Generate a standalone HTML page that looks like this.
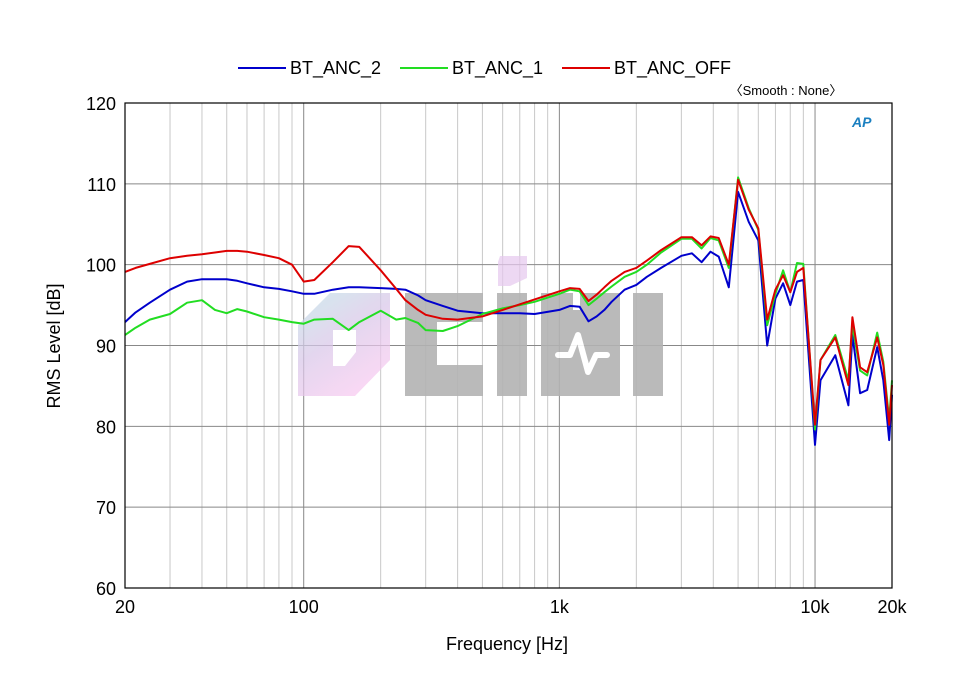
<!DOCTYPE html>
<html><head><meta charset="utf-8"><style>
body{margin:0;background:#fff;}
svg text{font-family:"Liberation Sans",sans-serif;}
</style></head><body>
<svg id="chart" width="960" height="680" xmlns="http://www.w3.org/2000/svg">
<defs>
<linearGradient id="dg" x1="0" y1="0" x2="0.6" y2="1"><stop offset="0" stop-color="#bfe3e6"/><stop offset="0.5" stop-color="#d8c6e8"/><stop offset="1" stop-color="#f7c8ef"/></linearGradient>
</defs>
<g id="grid"></g>
<g id="watermark" opacity="0.9">
<path d="M330 293 L390 293 L390 360 L355 396 L298 396 L298 325 Z M333 330 L333 366 L345 366 L356 352 L356 330 Z" fill="url(#dg)" fill-rule="evenodd" opacity="0.8"/>
<path d="M405 293 L483 293 L483 322 L437 322 L437 365 L483 365 L483 396 L405 396 Z" fill="#b3b3b3"/>
<rect x="497" y="293" width="30" height="103" fill="#b3b3b3"/>
<path d="M500 256 L527 256 L527 278 L510 286 L498 286 L498 262 Z" fill="#e6c8ee" opacity="0.8"/>
<path d="M541 293 L573 293 L573 310 L580 310 L580 293 L620 293 L620 396 L541 396 Z" fill="#b3b3b3"/>
<polyline points="558,355 570,355 578,335 588,372 596,355 607,355" fill="none" stroke="#fff" stroke-width="6" stroke-linecap="round" stroke-linejoin="round"/>
<rect x="633" y="293" width="30" height="103" fill="#b3b3b3"/>
</g>
<g id="series"></g>
<rect x="125" y="103" width="767" height="485" fill="none" stroke="#000" stroke-width="1.2"/>
<g id="ticks"></g>
<text x="507" y="650" font-size="18" text-anchor="middle">Frequency [Hz]</text>
<text transform="translate(60,346) rotate(-90)" font-size="18" text-anchor="middle">RMS Level [dB]</text>
<text x="786" y="95" font-size="13" text-anchor="middle">〈Smooth : None〉</text>
<text x="852" y="127" font-size="14" font-style="italic" font-weight="bold" fill="#1a7fc0">AP</text>
<g id="legend"></g>
</svg>
<script>
const freqs=[20,22,25,30,35,40,45,50,55,60,70,80,90,100,110,130,150,165,200,230,250,280,300,350,400,500,600,700,800,1000,1100,1200,1300,1400,1500,1600,1800,2000,2200,2500,3000,3300,3600,3900,4200,4600,5000,5500,6000,6500,7000,7500,8000,8500,9000,10000,10500,12000,13500,14000,15000,16000,17500,18500,19500,20000];
const anc2=[92.9,94.1,95.3,96.9,97.9,98.2,98.2,98.2,98.0,97.7,97.2,97.0,96.7,96.4,96.4,96.9,97.2,97.2,97.1,97.0,96.9,96.2,95.6,94.9,94.3,94.0,94.0,94.0,93.9,94.4,94.9,94.8,93.0,93.6,94.4,95.4,96.9,97.5,98.5,99.6,101.1,101.4,100.3,101.6,101.0,97.2,109.0,105.3,103.0,90.0,95.8,97.7,95.0,97.9,98.1,77.7,85.7,88.8,82.6,91.3,84.1,84.5,89.8,85.7,78.3,83.9];
const anc1=[91.3,92.2,93.2,93.9,95.3,95.6,94.4,94.0,94.5,94.2,93.5,93.2,92.9,92.7,93.2,93.3,91.9,92.9,94.3,93.2,93.4,92.8,91.9,91.8,92.4,93.9,94.6,95.0,95.4,96.4,96.9,96.7,95.0,95.8,96.6,97.3,98.5,99.1,100.0,101.5,103.2,103.2,102.0,103.3,103.0,99.6,110.8,107.0,104.3,92.5,96.4,99.3,96.6,100.2,100.1,79.6,88.2,91.3,85.7,92.5,86.9,86.3,91.6,88.0,80.8,85.7];
const ancOff=[99.1,99.6,100.1,100.8,101.1,101.3,101.5,101.7,101.7,101.6,101.2,100.8,100.0,97.9,98.1,100.3,102.3,102.2,99.3,97.0,95.6,94.4,93.8,93.3,93.2,93.6,94.4,95.1,95.7,96.7,97.1,97.0,95.5,96.3,97.2,98.0,99.1,99.6,100.5,101.8,103.4,103.4,102.4,103.5,103.3,100.0,110.5,106.8,104.5,93.2,96.9,98.7,96.6,99.1,99.6,80.2,88.2,91.0,85.1,93.5,87.3,86.7,91.0,87.6,80.2,85.1];
const yTicks=[60,70,80,90,100,110,120];
const xTickVals=[20,100,1000,10000,20000];
const xTickLabels=["20","100","1k","10k","20k"];
const seriesNames=["BT_ANC_2","BT_ANC_1","BT_ANC_OFF"];
const seriesColors=["#0000cc","#22dd22","#dd0000"];

const X0=125,X1=892,Y0=103,Y1=588;
const xs=f=>X0+(X1-X0)*Math.log10(f/20)/3;
const ys=v=>Y1-(v-60)/60*(Y1-Y0);
const NS="http://www.w3.org/2000/svg";
function mk(t,a,p){const e=document.createElementNS(NS,t);for(const k in a)e.setAttribute(k,a[k]);p.appendChild(e);return e;}
const grid=document.getElementById('grid');
for(let d=10;d<=10000;d*=10){for(let m=1;m<10;m++){const f=d*m;if(f<=20||f>=20000)continue;
 const l=mk('line',{x1:xs(f),x2:xs(f),y1:Y0,y2:Y1,stroke:m===1?'#888':'#c8c8c8','stroke-width':1},grid);
 
 }}
yTicks.forEach(v=>{const l=mk('line',{x1:X0,x2:X1,y1:ys(v),y2:ys(v),stroke:'#888','stroke-width':1},grid);
 
 });
const ticks=document.getElementById('ticks');
yTicks.forEach(v=>{const t=mk('text',{x:116,y:ys(v)+7,'font-size':18,'text-anchor':'end'},ticks);t.textContent=v;
 
 });
xTickVals.forEach((f,i)=>{const t=mk('text',{x:xs(f),y:613,'font-size':18,'text-anchor':'middle'},ticks);t.textContent=xTickLabels[i];
 
 });
const ser=document.getElementById('series');
[anc2,anc1,ancOff].forEach((arr,i)=>{
 const p=mk('polyline',{points:arr.map((v,j)=>xs(freqs[j]).toFixed(1)+','+ys(v).toFixed(1)).join(' '),fill:'none',stroke:seriesColors[i],'stroke-width':2,'stroke-linejoin':'round'},ser);
 
 
});
const lg=document.getElementById('legend');
const lx=[238,400,562];
seriesNames.forEach((n,i)=>{
 const l=mk('line',{x1:lx[i],x2:lx[i]+48,y1:68,y2:68,stroke:seriesColors[i],'stroke-width':2},lg);
 
 
 const t=mk('text',{x:lx[i]+52,y:74,'font-size':18},lg);t.textContent=n;
 
 
});
</script>
</body></html>
